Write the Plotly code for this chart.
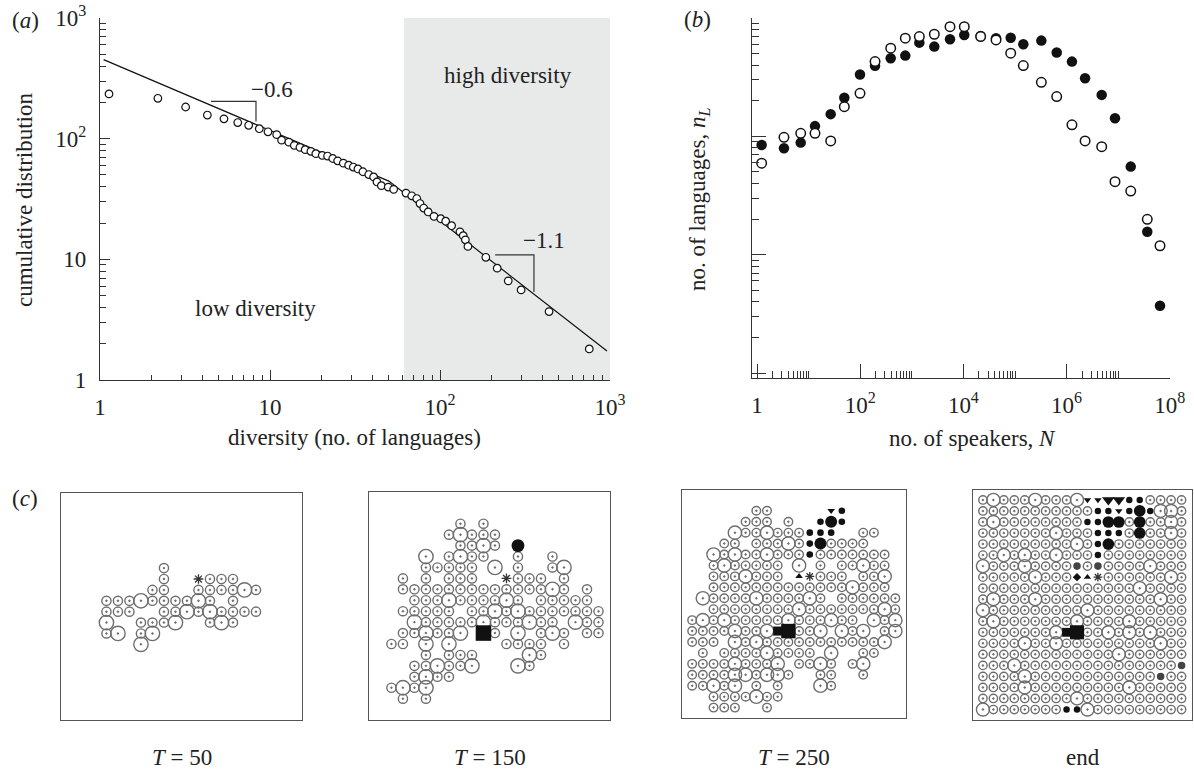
import plotly.graph_objects as go

W, H = 1194, 771
FONT = "Liberation Serif"
INK = "#222222"

# ---------------- panel (a): cumulative distribution of diversity ----------------
div_x = [1.13, 2.19, 3.19, 4.28, 5.36, 6.46, 7.49, 8.65, 9.73, 10.95,
         11.7, 12.9, 13.9, 15.0, 16.1, 17.4, 18.6, 20.3, 21.8, 23.4,
         25.0, 27.0, 29.0, 30.9, 32.9, 35.2, 38.1, 40.7, 42.6, 45.2,
         49.6, 53.4, 63.1, 68.2, 73.0, 76.3, 80.2, 85.2, 92.2, 101,
         108, 117, 131, 137, 141, 146, 186, 217, 252, 300,
         438, 755]
cum_y = [235, 216, 183, 157, 146, 136, 129, 121, 114, 108,
         97.2, 93.6, 88.0, 84.7, 81.1, 78.5, 75.1, 72.7, 71.8, 68.5,
         65.5, 62.7, 60.3, 58.2, 56.1, 53.2, 50.4, 48.2, 43.8, 40.8,
         39.7, 38.0, 35.4, 33.6, 31.9, 29.0, 26.6, 24.7, 22.7, 21.7,
         20.7, 19.0, 16.9, 15.7, 14.5, 12.8, 10.4, 8.45, 6.63, 5.58,
         3.69, 1.81]
fit_x = [1.05, 50, 960]
fit_y = [452, 44.5, 1.74]
slope1_x = [4.5, 8.27, 8.27]
slope1_y = [204, 204, 139]
slope2_x = [211, 357, 357]
slope2_y = [10.9, 10.9, 5.37]
high_div_start = 61.4
a_ticks = [1, 10, 100, 1000]
a_ticktext = ["1", "10", "10<sup>2</sup>", "10<sup>3</sup>"]

# ---------------- panel (b): number of languages vs speakers ----------------
speakers_N = [1.23, 3.33, 7.03, 13.3, 26.8, 49.2, 99.1, 194, 390, 748,
              1.40e3, 2.73e3, 5.50e3, 1.04e4, 2.16e4, 4.29e4, 8.26e4, 1.45e5, 3.24e5, 6.43e5,
              1.27e6, 2.28e6, 4.79e6, 8.67e6, 1.75e7, 3.66e7, 6.46e7]
nL_filled = [84.5, 79.3, 88.5, 122, 154, 212, 333, 394, 457, 481,
             619, 573, 662, 719, 706, 675, 682, 600, 644, 511,
             428, 310, 224, 142, 55.5, 15.6, 3.7]
nL_open = [59.3, 98.2, 106, 106, 91.4, 178, 231, 428, 556, 675,
           697, 729, 845, 845, 697, 653, 504, 396, 286, 217,
           125, 91.4, 81.8, 41.4, 34.5, 19.9, 11.9]
b_xticks = [1, 1e2, 1e4, 1e6, 1e8]
b_xticktext = ["1", "10<sup>2</sup>", "10<sup>4</sup>", "10<sup>6</sup>", "10<sup>8</sup>"]

# ---------------- panel (c): lattice snapshots ----------------
# '.' empty, 'o' small site, 'O' large site, 'f'/'F' filled, 'v'/'V' down triangle,
# '^' up triangle, 'd' diamond, '*' asterisk, 's'/'S' square, 'H' half-filled
grid_T50 = [
    "....................",
    "....................",
    "....................",
    "....................",
    "....................",
    "....................",
    "........o...........",
    "........o..*ooo.....",
    ".......oo..ooooOo...",
    "...oooOooooOo.o.....",
    "...ooo..ooOoOoooo...",
    "...O..oooO..oOo.....",
    "...oO.oO............",
    "......O.............",
    "....................",
    "....................",
    "....................",
    "....................",
    "....................",
    "....................",
]
grid_T150 = [
    "....................",
    "....................",
    ".......o.o..........",
    "......oOooo.........",
    ".......ooOo.F.......",
    "....O.oOoo..o..o....",
    "....ooooo.O.o..oO...",
    "..o.o.ooo..*ooo.o...",
    "..oooooooooooooOo.o.",
    "...oooOooooOo.ooooo.",
    "..ooooo.ooOoOooooooo",
    "...OoooooOoooOoo.Ooo",
    "..ooOooO.So.O.oOo.oo",
    ".oo.O.O....oooo.o...",
    "....o.ooo....Oo.....",
    "...ooOooO...Oo......",
    "...oOoo.............",
    ".oOoO...............",
    "..o.o...............",
    "....................",
]
grid_T250 = [
    "....................",
    "......oo.....vf.....",
    ".....ooo.o..fFf.....",
    "....OooOooofff..oo..",
    "...oo.oooOofFoooo...",
    "..OoOooOooofooooooo.",
    "..oOooooo.O.o.ooOoo.",
    "..oooOooo.^*ooo.ooO.",
    "..oooooooooooooOooo.",
    ".OooooOooooOo.oooooo",
    "..ooooooooOoooooooOo",
    "oOoOoooooOoooOoo.OoO",
    "ooooOooOsSooO.OoO.oO",
    "ooo.OoOoooooooooooO.",
    ".o.ooooOoooo.O..oo..",
    "ooooOoooO.ooOo.oO...",
    "ooooOOoOOo..oo..o...",
    "ooOoO.o.o...Oo......",
    "..ooooOoo...........",
    "..ooo..o............",
]
grid_end = [
    "oOoooOoooOvvVVffoooo",
    "oooooooooooffvfFfOOo",
    "oOooooooooffFFoFooOo",
    "oooooooOooofffoFooOo",
    "oooooooooOofFooooooo",
    "ooOoOooOooofoooooooo",
    "OoooOooooHoHooooOooo",
    "oooooOoood^*ooooooOo",
    "oooooooooooooooOoooo",
    "oOoooOoooooooooooOoo",
    "OoooooooooOooooooooo",
    "oOoooooooOooooOooooo",
    "oooooooOsSooOoOoOooo",
    "ooooOooOoooooooooOoo",
    "oooooooooooooOoooooo",
    "oooOoooooooooooooooH",
    "ooooOooooooooooooHoo",
    "ooooOoooooooooOooooo",
    "oooooooooOoooooooooo",
    "OoooooooffOooooooooo",
]
snap_labels = ["<i>T</i> = 50", "<i>T</i> = 150", "<i>T</i> = 250", "end"]


def px(x):
    return x / W


def py(y):
    return 1 - y / H


fig = go.Figure()

# ---- (a)
fig.add_trace(go.Scatter(
    x=[high_div_start, 1000, 1000, high_div_start], y=[1, 1, 1000, 1000],
    fill="toself", fillcolor="#e8e9e9", line=dict(width=0), mode="lines",
    hoverinfo="skip", showlegend=False, xaxis="x", yaxis="y"))
fig.add_trace(go.Scatter(x=fit_x, y=fit_y, mode="lines",
                         line=dict(color="#111", width=1.2), showlegend=False,
                         xaxis="x", yaxis="y"))
for sx, sy in [(slope1_x, slope1_y), (slope2_x, slope2_y)]:
    fig.add_trace(go.Scatter(x=sx, y=sy, mode="lines",
                             line=dict(color="#333", width=1.2), showlegend=False,
                             xaxis="x", yaxis="y"))
fig.add_trace(go.Scatter(x=div_x, y=cum_y, mode="markers",
                         marker=dict(symbol="circle", size=7.6, color="white",
                                     line=dict(color="#111", width=1.2)),
                         showlegend=False, xaxis="x", yaxis="y"))

# ---- (b)
fig.add_trace(go.Scatter(x=speakers_N, y=nL_filled, mode="markers",
                         marker=dict(symbol="circle", size=10.5, color="#111",
                                     line=dict(width=0)),
                         showlegend=False, xaxis="x2", yaxis="y2"))
fig.add_trace(go.Scatter(x=speakers_N, y=nL_open, mode="markers",
                         marker=dict(symbol="circle", size=9.5, color="white",
                                     line=dict(color="#111", width=1.5)),
                         showlegend=False, xaxis="x2", yaxis="y2"))

# ---- (c)
STY = {
    "o": ("circle-open-dot", 0.8, "#6e6e6e", 1.4),
    "O": ("circle-open-dot", 1.25, "#6e6e6e", 1.4),
    "f": ("circle", 0.62, "#111", 0),
    "F": ("circle", 1.12, "#111", 0),
    "v": ("triangle-down", 0.62, "#111", 0),
    "V": ("triangle-down", 1.05, "#111", 0),
    "^": ("triangle-up", 0.62, "#111", 0),
    "d": ("diamond", 0.62, "#111", 0),
    "*": ("asterisk-open", 0.7, "#333", 1.3),
    "s": ("square", 0.85, "#111", 0),
    "S": ("square", 1.35, "#111", 0),
    "H": ("circle", 0.72, "#444", 0),
}
boxes = [(61, 302, 493, 720), (369, 610, 492, 720), (682, 906, 490, 718), (973, 1192, 490, 720)]
grids = [grid_T50, grid_T150, grid_T250, grid_end]
xr = [-0.95, 20.0]
yr = [19.95, -0.9]

layout_axes = {}
for i, (grid, (x0, x1, y0, y1)) in enumerate(zip(grids, boxes)):
    k = i + 3
    cell = (x1 - x0) / (xr[1] - xr[0])
    groups = {}
    for r, row in enumerate(grid):
        for c, ch in enumerate(row):
            if ch == ".":
                continue
            groups.setdefault(ch, ([], []))
            groups[ch][0].append(c)
            groups[ch][1].append(r)
    order = ["o", "O", "H", "f", "F", "v", "V", "^", "d", "s", "S", "*"]
    for ch in order:
        if ch not in groups:
            continue
        sym, sz, col, lw = STY[ch]
        fig.add_trace(go.Scatter(
            x=groups[ch][0], y=groups[ch][1], mode="markers",
            marker=dict(symbol=sym, size=sz * cell, color=col,
                        line=dict(color=col, width=lw)),
            showlegend=False, hoverinfo="skip",
            xaxis=f"x{k}", yaxis=f"y{k}"))
    common = dict(showgrid=False, zeroline=False, showticklabels=False, ticks="",
                  showline=True, mirror=True, linecolor="#555", linewidth=1)
    layout_axes[f"xaxis{k}"] = dict(domain=[px(x0), min(px(x1), 1.0)], range=xr,
                                    anchor=f"y{k}", **common)
    layout_axes[f"yaxis{k}"] = dict(domain=[py(y1), py(y0)], range=yr,
                                    anchor=f"x{k}", **common)

tickfont = dict(family=FONT, size=23, color=INK)


def minor_log(decades, mult=range(2, 10)):
    return [m * 10 ** d for d in decades for m in mult]


axis_style = dict(type="log", showgrid=False, zeroline=False, showline=True,
                  linecolor="#333", linewidth=1.3, ticks="inside", automargin=False,
                  ticklabeloverflow="allow",
                  tickcolor="#333", tickwidth=1.2, tickfont=tickfont, tickmode="array")

fig.update_layout(
    width=W, height=H, margin=dict(l=0, r=0, t=0, b=0, pad=0, autoexpand=False),
    paper_bgcolor="white", plot_bgcolor="rgba(0,0,0,0)",
    showlegend=False,
    xaxis=dict(domain=[px(100), px(610)], range=[0, 3], anchor="y",
               tickvals=a_ticks, ticktext=a_ticktext, ticklen=10,
               ticklabelstandoff=6,
               minor=dict(tickmode="array", tickvals=minor_log([0, 1, 2]), ticks="inside",
                          ticklen=5, tickcolor="#333", tickwidth=1),
               **axis_style),
    yaxis=dict(domain=[py(380), py(18)], range=[0, 3], anchor="x",
               tickvals=a_ticks, ticktext=a_ticktext, ticklen=10,
               ticklabelstandoff=8,
               minor=dict(tickmode="array", tickvals=minor_log([0, 1, 2]), ticks="inside",
                          ticklen=6, tickcolor="#333", tickwidth=1),
               **axis_style),
    xaxis2=dict(domain=[px(752), px(1170)], range=[-0.097, 8.004], anchor="y2",
                tickvals=b_xticks, ticktext=b_xticktext, ticklen=14,
                ticklabelstandoff=6,
                minor=dict(tickmode="array",
                           tickvals=minor_log([0, 2, 4, 6], mult=range(2, 11)),
                           ticks="inside", ticklen=7, tickcolor="#333", tickwidth=1),
                **axis_style),
    yaxis2=dict(domain=[py(378), py(18)], range=[-0.042, 3.0], anchor="x2",
                tickvals=[1, 10, 100, 1000], ticklen=14, showticklabels=False,
                minor=dict(tickmode="array", tickvals=minor_log([0, 1, 2]),
                           ticks="inside", ticklen=7, tickcolor="#333", tickwidth=1),
                **axis_style),
    **layout_axes,
)

ann = []


def text(x, y, s, size=23, angle=0):
    ann.append(dict(x=px(x), y=py(y), xref="paper", yref="paper", text=s,
                    showarrow=False, textangle=angle, xanchor="center", yanchor="middle",
                    font=dict(family=FONT, size=size, color=INK)))


text(25, 20, "(<i>a</i>)")
text(697, 19, "(<i>b</i>)")
text(25, 498, "(<i>c</i>)")
text(25, 200, "cumulative distribution", angle=-90)
text(355, 437, "diversity (no. of languages)")
text(255, 308, "low diversity")
text(508, 76, "high diversity")
text(272, 89, "\u22120.6")
text(544, 240, "\u22121.1")
text(699, 200, "no. of languages, <i>n</i><sub><i>L</i></sub>", angle=-90)
text(972, 438, "no. of speakers, <i>N</i>")
for lab, (x0, x1, y0, y1) in zip(snap_labels, boxes):
    text((x0 + x1) / 2, 757, lab)

fig.update_layout(annotations=ann)
fig.write_html("out.html",
               config={"displayModeBar": False},
               post_script="document.body.style.margin='0px';document.body.style.overflow='hidden';")
